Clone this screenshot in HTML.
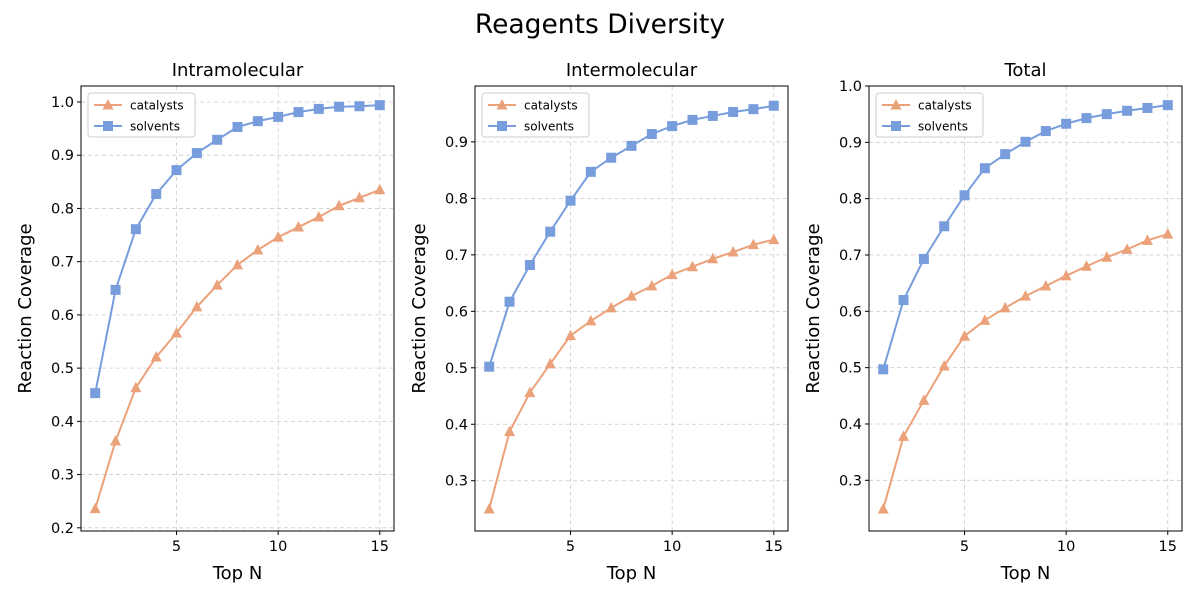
<!DOCTYPE html>
<html><head><meta charset="utf-8"><style>
body{margin:0;background:#fff;font-family:"Liberation Sans","DejaVu Sans",sans-serif}
svg text{font-family:"DejaVu Sans","Liberation Sans",sans-serif}
</style></head><body>
<svg id="c" width="1200" height="600">
<text x="600" y="33" text-anchor="middle" font-size="26.5">Reagents Diversity</text>
</svg>
<script>
const xs=[1,2,3,4,5,6,7,8,9,10,11,12,13,14,15];
const titles=["Intramolecular","Intermolecular","Total"];
const cat1=[0.236,0.363,0.463,0.521,0.566,0.615,0.656,0.694,0.722,0.746,0.765,0.784,0.805,0.820,0.835];
const sol1=[0.453,0.647,0.761,0.827,0.872,0.904,0.929,0.953,0.964,0.972,0.981,0.987,0.991,0.992,0.994];
const cat2=[0.25,0.387,0.456,0.507,0.557,0.583,0.606,0.627,0.645,0.665,0.679,0.693,0.705,0.718,0.727];
const sol2=[0.502,0.617,0.682,0.741,0.796,0.847,0.872,0.893,0.914,0.928,0.939,0.946,0.953,0.958,0.964];
const cat3=[0.249,0.378,0.442,0.503,0.556,0.584,0.606,0.627,0.645,0.663,0.680,0.696,0.710,0.726,0.737];
const sol3=[0.497,0.620,0.693,0.751,0.806,0.854,0.879,0.901,0.920,0.933,0.943,0.950,0.956,0.961,0.966];
const yTicks1=[0.2,0.3,0.4,0.5,0.6,0.7,0.8,0.9,1.0];
const yTicks2=[0.3,0.4,0.5,0.6,0.7,0.8,0.9];
const yTicks3=[0.3,0.4,0.5,0.6,0.7,0.8,0.9,1.0];
const xTicks=[5,10,15];
const panels=[
 {x0:81,y0:86,w:313,h:445,ymin:0.194,ymax:1.030,cat:cat1,sol:sol1,yt:yTicks1},
 {x0:475,y0:86,w:313,h:445,ymin:0.211,ymax:0.999,cat:cat2,sol:sol2,yt:yTicks2},
 {x0:869,y0:86,w:313,h:445,ymin:0.210,ymax:1.000,cat:cat3,sol:sol3,yt:yTicks3}];
const NS="http://www.w3.org/2000/svg",svg=document.getElementById('c');
function mk(t,a,p){const e=document.createElementNS(NS,t);for(const k in a)e.setAttribute(k,a[k]);(p||svg).appendChild(e);return e;}
const CO="#EBA179",CS="#789DDD";
panels.forEach((P,i)=>{
 const g=mk('g',{});
 
 
 const X=v=>P.x0+(v-0.3)/(15.7-0.3)*P.w;
 const Y=v=>P.y0+P.h-(v-P.ymin)/(P.ymax-P.ymin)*P.h;
 P.yt.forEach(t=>{const y=Y(t);
  mk('line',{x1:P.x0,x2:P.x0+P.w,y1:y,y2:y,stroke:"#ccc","stroke-dasharray":"4,3","stroke-width":0.8},g);
  mk('line',{x1:P.x0-4,x2:P.x0,y1:y,y2:y,stroke:"#000"},g);
  const tx=mk('text',{x:P.x0-7,y:y+5,"text-anchor":"end","font-size":14.5},g);tx.textContent=t.toFixed(1);});
 xTicks.forEach(t=>{const x=X(t);
  mk('line',{x1:x,x2:x,y1:P.y0,y2:P.y0+P.h,stroke:"#ccc","stroke-dasharray":"4,3","stroke-width":0.8},g);
  mk('line',{x1:x,x2:x,y1:P.y0+P.h,y2:P.y0+P.h+4,stroke:"#000"},g);
  const tx=mk('text',{x:x,y:P.y0+P.h+20,"text-anchor":"middle","font-size":14.5},g);tx.textContent=t;});
 mk('rect',{x:P.x0,y:P.y0,width:P.w,height:P.h,fill:"none",stroke:"#000","stroke-width":1},g);
 let t=mk('text',{x:P.x0+P.w/2,y:P.y0-10,"text-anchor":"middle","font-size":18},g);t.textContent=titles[i];
 t=mk('text',{x:P.x0+P.w/2,y:P.y0+P.h+48,"text-anchor":"middle","font-size":18},g);t.textContent="Top N";
 t=mk('text',{x:0,y:0,"text-anchor":"middle","font-size":18,transform:`translate(${P.x0-50},${P.y0+P.h/2}) rotate(-90)`},g);t.textContent="Reaction Coverage";
 [[P.cat,CO,'tri','catalysts'],[P.sol,CS,'sq','solvents']].forEach(([d,c,m,n])=>{
  const pl=mk('polyline',{points:d.map((v,j)=>X(xs[j])+','+Y(v)).join(' '),fill:"none",stroke:c,"stroke-width":2},g);
  
  
  d.forEach((v,j)=>{const x=X(xs[j]),y=Y(v);let e;
   if(m=='sq')e=mk('rect',{x:x-5,y:y-5,width:10,height:10,fill:c},g);
   else e=mk('polygon',{points:`${x},${y-6} ${x-5.5},${y+4.5} ${x+5.5},${y+4.5}`,fill:c},g);
   
   });
 });
 const lg=mk('g',{},g);
 
 
 const lx=P.x0+7,ly=P.y0+7;
 mk('rect',{x:lx,y:ly,width:107,height:44,rx:3,fill:"#fff",stroke:"#ccc"},lg);
 [[CO,'catalysts','tri'],[CS,'solvents','sq']].forEach(([c,n,m],k)=>{const yy=ly+12+k*21;
  mk('line',{x1:lx+6,x2:lx+34,y1:yy,y2:yy,stroke:c,"stroke-width":2},lg);
  if(m=='sq')mk('rect',{x:lx+15,y:yy-5,width:10,height:10,fill:c},lg);
  else mk('polygon',{points:`${lx+20},${yy-6} ${lx+14.5},${yy+4.5} ${lx+25.5},${yy+4.5}`,fill:c},lg);
  const tt=mk('text',{x:lx+42,y:yy+4.5,"font-size":12},lg);tt.textContent=n;});
});
</script>
</body></html>
